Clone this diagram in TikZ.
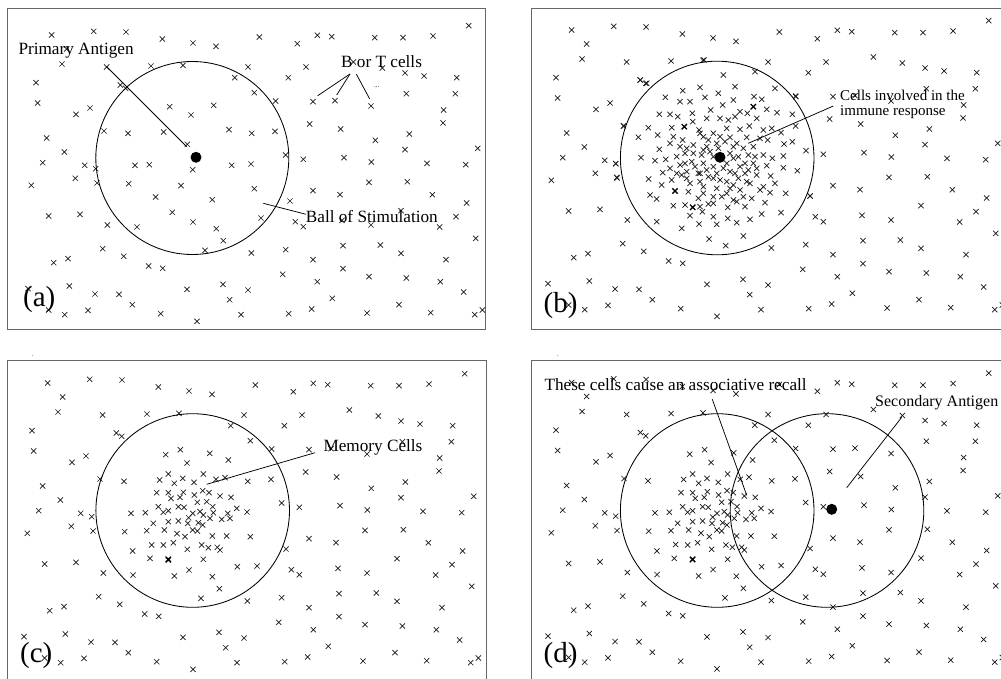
\documentclass[tikz,border=0pt]{standalone}
\usepackage{fontspec}
\setmainfont{Liberation Serif}
\begin{document}
\begin{tikzpicture}[x=1pt,y=-1pt,
  cx/.style={line width=0.7pt,black!90},
  cxb/.style={line width=1.1pt,black},
  frame/.style={draw=black!60,line width=0.9pt},
  ball/.style={draw=black,line width=0.85pt},
  dotfill/.style={fill=black},
  conn/.style={draw=black,line width=0.75pt},
  lbl/.style={font=\fontsize{17.2}{18}\selectfont,inner sep=0pt,anchor=base west},
  panellbl/.style={font=\fontsize{29}{30}\selectfont,inner sep=0pt,anchor=base west}]
\useasboundingbox (0,0) rectangle (1001,679);
\clip (0,0) rectangle (1001,679);
\fill[white] (0,0) rectangle (1001,679);
\def\bgpts{155/105,281/94,378/96,487/117,579/129,648/139,778/111,892/131,952/106,995/110,1124/113,1209/113,1299/108,1406/77,200/147,186/192,320/201,453/198,549/196,744/201,918/201,1060/186,1147/204,1215/219,1272/228,1370/233,108/248,361/255,377/265,704/233,865/233,113/309,228/343,270/324,509/320,573/345,641/316,763/278,827/303,939/305,1005/302,1113/318,1219/281,1366/281,1331/330,1329/369,140/414,193/456,312/393,384/400,491/396,562/433,687/389,755/400,825/394,929/372,1022/387,1126/421,1228/402,1215/449,1433/445,128/488,254/496,287/506,405/496,448/494,578/509,695/496,753/492,857/465,910/478,1032/473,1114/486,1281/490,1397/494,94/556,226/535,291/549,386/551,543/557,763/566,939/572,1020/584,1107/547,1222/545,1297/584,467/591,637/599,870/603,1400/609,146/648,240/643,517/637,322/675,411/681,579/666,649/686,783/654,886/665,910/680,1026/661,1113/675,1203/632,1319/681,1368/650,1427/715,670/722,615/751,308/746,371/769,161/788,204/776,446/798,488/805,754/759,857/749,939/779,1029/737,1141/735,1203/760,1338/779,848/823,1029/806,1107/830,1219/834,1321/845,952/845,84/866,208/858,285/882,357/883,561/868,669/853,744/870,397/914,689/899,997/895,1197/914,1391/876,146/930,194/944,264/931,482/941,591/964,723/944,866/941,935/927,1101/939,1292/938,1424/944,1447/930}
\def\bpts{670/225,765/215,705/260,600/262,548/272,655/280,496/292,540/305,570/305,615/292,668/315,700/300,762/290,785/298,825/265,887/290,420/240,440/250,612/180,760/320,478/343,510/343,533/350,577/340,632/330,720/335,742/340,800/328,831/338,877/343,660/355,685/360,770/355,620/355,578/365,705/350,445/383,473/405,415/412,515/383,553/380,597/390,640/400,680/385,720/388,748/378,790/390,815/385,887/378,843/398,803/420,852/432,877/425,520/410,548/420,610/410,660/410,690/412,740/412,780/415,478/448,510/430,540/440,580/435,620/440,650/430,700/440,760/440,730/445,790/465,850/468,423/473,465/482,497/478,530/470,555/460,605/465,630/455,715/470,745/465,817/475,918/452,510/505,540/495,575/485,610/490,640/500,680/490,720/500,760/490,800/497,850/503,892/512,488/518,530/520,560/515,600/520,650/520,690/515,735/520,770/525,812/528,446/537,485/555,515/540,560/535,600/545,640/535,680/545,715/535,750/550,790/560,825/550,857/580,350/532,347/491,450/585,470/597,525/573,565/575,610/580,640/590,680/580,730/590,810/578,780/570,520/617,555/615,578/622,607/635,625/612,683/622,710/605,735/620,795/608,843/638,570/647,640/650,683/655,710/668,750/658,785/642,597/672,650/673,545/685,470/665,627/717,677/737,730/708,930/588,595/520,370/378}
\def\bcore{600/400,625/420,655/445,690/460,580/460,610/450,640/470,700/475,735/490,585/500,620/510,670/505,705/520,625/530,660/540,700/555,570/550,610/560,650/565,690/565,555/490,545/525,745/510,765/470,740/545,720/570,665/590,595/595,560/445,770/505,675/425,710/430,640/610,600/620,700/600,755/595}
\def\bbold{760/320,553/380,525/573,578/622}
\def\cpts{355/0,211/-31,175/42,218/55,193/70,252/67,280/42,318/58,140/98,175/98,183/115,210/112,253/105,278/92,297/98,330/108,363/112,262/127,290/125,145/140,160/157,175/152,205/140,222/142,248/160,270/155,308/140,310/158,380/145,280/165,300/175,335/178,360/175,110/212,130/190,163/210,175/185,205/183,233/190,265/188,225/230,248/210,262/213,278/195,307/228,350/228,160/255,190/248,232/268,275/255,322/262,330/270,68/273,120/295,175/298,280/298,382/320,193/348}
\newcommand\crosses[2]{\foreach \p/\q in #1 {\draw[#2] (\p/3,\q/3) ++(-2.6,-2.6) -- ++(5.2,5.2) ++(-5.2,0) -- ++(5.2,-5.2);}}
% ---------- frames
\draw[frame] (7.3,8) rectangle (485.7,329);
\draw[frame] (531.7,8) rectangle (1010,329);
\draw[frame] (7.3,360.7) rectangle (486.7,690);
\draw[frame] (531.7,360.7) rectangle (1010,690);
\fill[black!50] (32.3,355.7) circle[radius=0.5pt];
\fill[black!50] (557.3,355.7) circle[radius=0.5pt];
% ---------- panel (a)
\crosses{\bgpts}{cx}
\draw[ball] (192.3,158) circle[radius=96.5pt];
\fill[dotfill] (196,157.3) circle[radius=5.5pt];
\node[lbl] (primA) at (18.3,54.3) {Primary Antigen};
\coordinate (primA1) at (106.7,66.7);
\coordinate (primA2) at (186.7,146.7);
\draw[conn] (primA1) -- (primA2);
\node[lbl] (bt) at (341,67.7) {B or T cells};
\coordinate (bt0) at (350,74);
\coordinate (bt0b) at (356.3,74);
\coordinate (bt1) at (317.7,95.7);
\coordinate (bt2) at (336.7,95);
\coordinate (bt3) at (369.7,99);
\draw[conn] (bt0) -- (bt1);
\draw[conn] (bt0) -- (bt2);
\draw[conn] (bt0b) -- (bt3);
\node[font=\fontsize{7}{8}\selectfont,inner sep=0pt] (dots) at (376.7,87) {...};
\node[lbl] (ball) at (305.7,222.7) {Ball of Stimulation};
\coordinate (ball1) at (306,214.3);
\coordinate (ball2) at (263.3,203.3);
\draw[conn] (ball1) -- (ball2);
\node[panellbl] (la) at (23,306.5) {(a)};
% ---------- panel (b)
\begin{scope}[even odd rule]
  \clip (500,0) rectangle (1001,340) (717.2,158) circle[radius=96.8pt];
  \begin{scope}[shift={(520,-5)}]\crosses{\bgpts}{cx}\end{scope}
\end{scope}
\begin{scope}[shift={(500,0)}]
  \crosses{\bpts}{cx}
  \crosses{\bcore}{cx}
  \crosses{\bbold}{cxb}
\end{scope}
\draw[ball] (717.2,158) circle[radius=96.8pt];
\fill[dotfill] (720,157.3) circle[radius=5.5pt];
\node[font=\fontsize{15}{14.4}\selectfont,inner sep=0pt,anchor=north west,align=left] (inv) at (840,90.3) {Cells involved in the\\immune response};
\coordinate (inv1) at (833.3,106);
\coordinate (inv2) at (748.3,143.3);
\draw[conn] (inv1) -- (inv2);
\node[panellbl] (lb) at (543.5,312) {(b)};
% ---------- panel (c)
\begin{scope}[shift={(-4,348)}]\crosses{\bgpts}{cx}\end{scope}
\begin{scope}[shift={(110,460)}]\crosses{\cpts}{cx}\crosses{{175/298}}{cxb}\end{scope}
\draw[ball] (192.7,510.5) circle[radius=96.8pt];
\node[lbl] (mem) at (323.3,451.7) {Memory Cells};
\coordinate (mem1) at (315,452.7);
\coordinate (mem2) at (206.7,484.3);
\draw[conn] (mem1) -- (mem2);
\node[panellbl] (lc) at (20,662) {(c)};
% ---------- panel (d)
\begin{scope}[shift={(520,347.5)}]\crosses{\bgpts}{cx}\end{scope}
\begin{scope}[shift={(634.3,460)}]\crosses{\cpts}{cx}\crosses{{175/298}}{cxb}\end{scope}
\draw[ball] (717.2,510.5) circle[radius=96.8pt];
\draw[ball] (827,510.5) circle[radius=96.8pt];
\fill[dotfill] (831.7,509.3) circle[radius=5.5pt];
\node[lbl] (these) at (544.3,390.7) {These cells cause an associative recall};
\coordinate (these1) at (712.3,399.3);
\coordinate (these2) at (746.7,495.3);
\draw[conn] (these1) -- (these2);
\node[lbl,font=\fontsize{16}{18}\selectfont] (sec) at (875,406) {Secondary Antigen};
\coordinate (sec1) at (901.7,417.3);
\coordinate (sec2) at (846.7,487.7);
\draw[conn] (sec1) -- (sec2);
\node[panellbl] (ld) at (543.5,662) {(d)};
\end{tikzpicture}
\end{document}
